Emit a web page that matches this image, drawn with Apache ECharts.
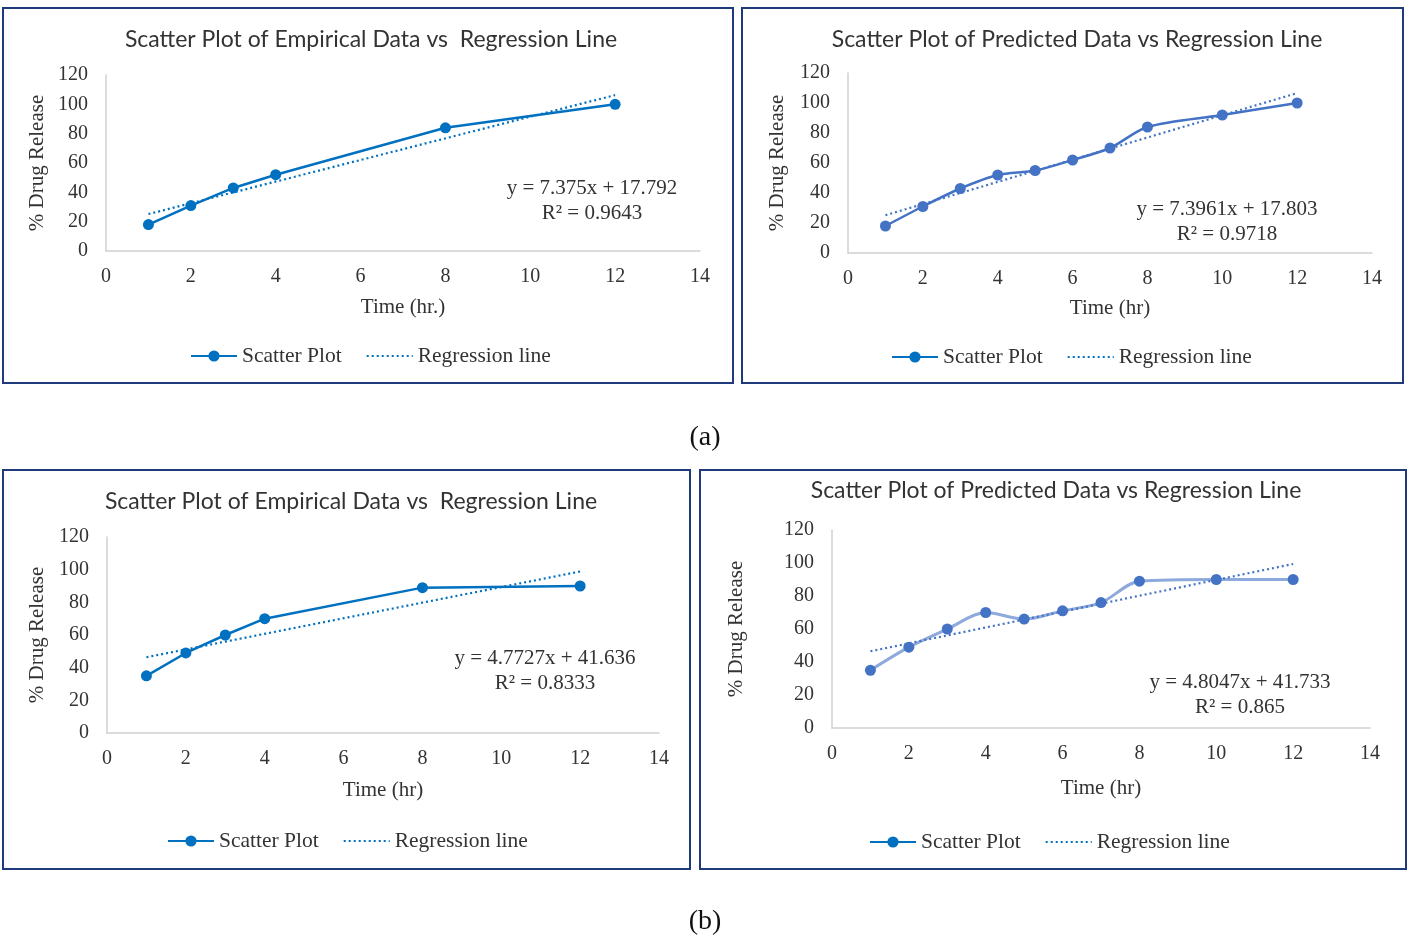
<!DOCTYPE html>
<html><head><meta charset="utf-8">
<script src="https://cdn.jsdelivr.net/npm/echarts@6/dist/echarts.min.js"></script>
<style>html,body{margin:0;padding:0;background:#fff}#c{width:1408px;height:938px}</style>
</head><body><div id="c"></div>
<script>
// ---- data ----
const titles = ['Scatter Plot of Empirical Data vs  Regression Line','Scatter Plot of Predicted Data vs Regression Line','Scatter Plot of Empirical Data vs  Regression Line','Scatter Plot of Predicted Data vs Regression Line'];
const xNames = ['Time (hr.)','Time (hr)','Time (hr)','Time (hr)'];
const yName = '% Drug Release';
const seriesNames = ['Scatter Plot','Regression line'];
const xEmp = [1,2,3,4,8,12];
const xPred = [1,2,3,4,5,6,7,8,10,12];
const yEmpA = [18,31,43,52,84,100];
const yPredA = [18,31,43,52,55,62,70,84,92,100];
const yEmpB = [35,49,60,70,89,90];
const yPredB = [35,49,60,70,66,71,76,89,90,90];
// regression line end points (x=1 and x=12)
const regX = [1,12];
const regEmpA = [25.2,106.3];
const regPredA = [25.2,106.6];
const regEmpB = [46.4,98.9];
const regPredB = [46.5,99.4];
const eqs = [['y = 7.375x + 17.792','R² = 0.9643'],['y = 7.3961x + 17.803','R² = 0.9718'],['y = 4.7727x + 41.636','R² = 0.8333'],['y = 4.8047x + 41.733','R² = 0.865']];
const captions = ['(a)','(b)'];

// ---- layout ----
const panels = [
  {box:[3,8,730,375], grid:{left:106,top:75,width:594,height:176}, title:[366,24], legX:185, legY:340, xGap:46, yGap:58, eq:[592,188], line:'#0070C0', mark:'#0070C0', reg:'#0070C0', smooth:false},
  {box:[742,8,661,375], grid:{left:848,top:73,width:524,height:180}, title:[1072,24], legX:886, legY:341, xGap:45, yGap:60, eq:[1227,209], line:'#4472C4', mark:'#4472C4', reg:'#4472C4', smooth:0.3},
  {box:[3,470,687,399], grid:{left:107,top:537,width:552,height:196}, title:[346,486], legX:162, legY:825, xGap:47, yGap:59, eq:[545,658], line:'#0070C0', mark:'#0070C0', reg:'#0070C0', smooth:false},
  {box:[700,470,706,399], grid:{left:832,top:530,width:538,height:198}, title:[1051,475], legX:864, legY:826, xGap:50, yGap:85, eq:[1240,682], line:'#8EA9DB', mark:'#4472C4', reg:'#4472C4', smooth:0.3}
];
const xs = [xEmp,xPred,xEmp,xPred];
const ys = [yEmpA,yPredA,yEmpB,yPredB];
const regs = [regEmpA,regPredA,regEmpB,regPredB];

const serif = "'Liberation Serif','Times New Roman',serif";
const sans = "Lato,'Open Sans',sans-serif";

const option = {animation:false, backgroundColor:'#fff', title:[], legend:[], grid:[], xAxis:[], yAxis:[], series:[], graphic:[]};
panels.forEach((p,i)=>{
  option.grid.push(Object.assign({containLabel:false}, p.grid));
  option.xAxis.push({type:'value', gridIndex:i, min:0, max:14, interval:2, name:xNames[i], nameLocation:'middle', nameGap:p.xGap,
    nameTextStyle:{fontFamily:serif,fontSize:21,color:'#333'},
    axisLine:{show:true,lineStyle:{color:'#d0d0d0',width:1.5}}, axisTick:{show:false}, splitLine:{show:false},
    axisLabel:{fontFamily:serif,fontSize:20,color:'#333',margin:16}});
  option.yAxis.push({type:'value', gridIndex:i, min:0, max:120, interval:20, name:yName, nameLocation:'middle', nameGap:p.yGap,
    nameTextStyle:{fontFamily:serif,fontSize:21,color:'#333'},
    axisLine:{show:true,lineStyle:{color:'#d0d0d0',width:1.5}}, axisTick:{show:false}, splitLine:{show:false},
    axisLabel:{fontFamily:serif,fontSize:20,color:'#333',margin:18}});
  option.title.push({text:titles[i], left:p.title[0], top:p.title[1]-1, textAlign:'center',
    textStyle:{fontFamily:sans,fontSize:23,fontWeight:'normal',color:'#333'}});
  option.legend.push({data:[{name:seriesNames[0]},{name:seriesNames[1], itemStyle:{opacity:0}}],
    left:p.legX, top:p.legY, itemWidth:46, itemHeight:14, itemGap:24,
    textStyle:{fontFamily:serif,fontSize:21.5,color:'#333'}, seriesIndex:[2*i,2*i+1]});
  option.series.push({name:seriesNames[0], type:'line', xAxisIndex:i, yAxisIndex:i, smooth:p.smooth,
    data:xs[i].map((x,k)=>[x,ys[i][k]]), symbol:'circle', symbolSize:11,
    lineStyle:{color:p.line,width:p.line==='#8EA9DB'?3:2.5}, itemStyle:{color:p.mark}});
  option.series.push({name:seriesNames[1], type:'line', xAxisIndex:i, yAxisIndex:i, symbol:'none',
    data:regX.map((x,k)=>[x,regs[i][k]]), lineStyle:{color:p.reg,width:2.2,type:[2,3]}, itemStyle:{color:p.reg}});
  option.graphic.push({type:'rect', shape:{x:p.box[0],y:p.box[1],width:p.box[2],height:p.box[3]}, silent:true,
    style:{fill:'none',stroke:'#1F3A7A',lineWidth:2}, z:-1});
  option.graphic.push({type:'text', x:p.eq[0], y:p.eq[1], style:{text:eqs[i][0], fontFamily:serif, fontSize:21, fill:'#333', align:'center', verticalAlign:'middle'}});
  option.graphic.push({type:'text', x:p.eq[0], y:p.eq[1]+25, style:{text:eqs[i][1], fontFamily:serif, fontSize:21, fill:'#333', align:'center', verticalAlign:'middle'}});
});
option.graphic.push({type:'text', x:705, y:438, style:{text:captions[0], fontFamily:serif, fontSize:28, fill:'#111', align:'center', verticalAlign:'middle'}});
option.graphic.push({type:'text', x:705, y:922, style:{text:captions[1], fontFamily:serif, fontSize:28, fill:'#111', align:'center', verticalAlign:'middle'}});

const chart = echarts.init(document.getElementById('c'));
chart.setOption(option);
</script></body></html>
